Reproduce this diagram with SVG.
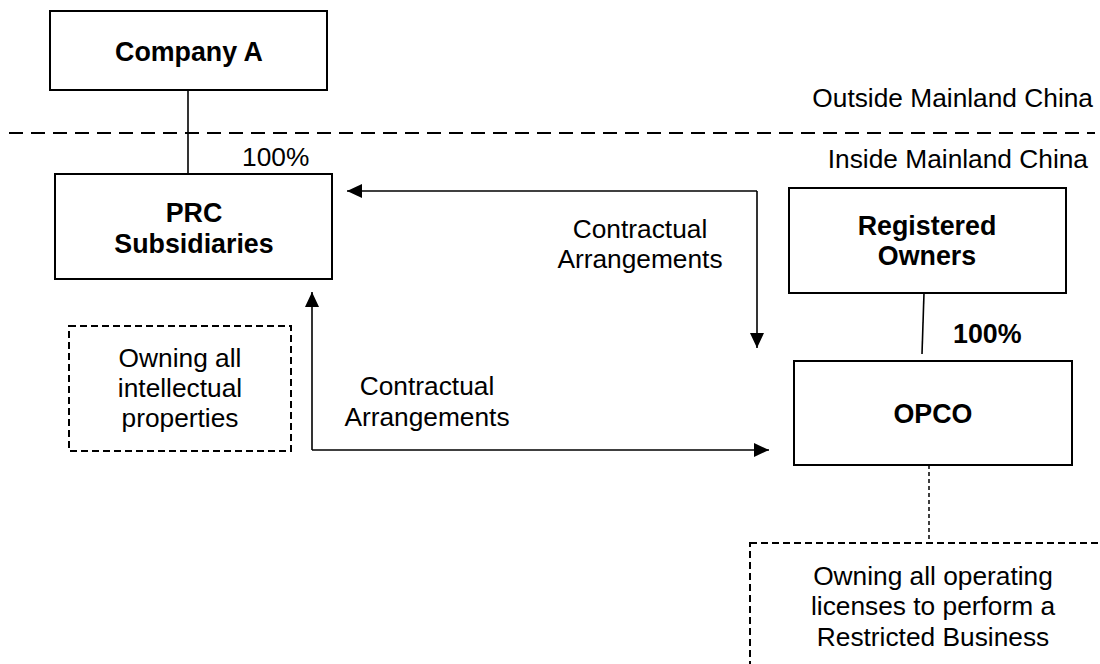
<svg xmlns="http://www.w3.org/2000/svg" width="1100" height="664" viewBox="0 0 1100 664">
  <style>
    .box { fill: #fff; stroke: #000; stroke-width: 2; }
    .note { fill: none; stroke: #000; stroke-width: 2; stroke-dasharray: 7 4; }
    .link { fill: none; stroke: #000; stroke-width: 1.6; }
    .t { font-family: "Liberation Sans", Arial, sans-serif; font-size: 26.3px; fill: #000; }
    .b { font-weight: bold; font-size: 26.8px; }
    .c { text-anchor: middle; }
  </style>
  <defs>
    <marker id="arrow" markerUnits="userSpaceOnUse" markerWidth="16" markerHeight="16" viewBox="0 0 16 16" refX="15" refY="8" orient="auto">
      <path d="M0,1 L15,8 L0,15 Z" fill="#000"/>
    </marker>
  </defs>

  <rect width="1100" height="664" fill="#fff"/>

  <!-- border between jurisdictions -->
  <g id="border">
    <line x1="9" y1="133" x2="1095" y2="133" stroke="#000" stroke-width="1.8" stroke-dasharray="14 8"/>
    <text class="t" x="1093" y="107" text-anchor="end">Outside Mainland China</text>
    <text class="t" x="1088" y="168" text-anchor="end">Inside Mainland China</text>
  </g>

  <!-- connectors -->
  <g id="connectors">
    <line class="link" x1="188" y1="90" x2="188" y2="174"/>
    <text class="t" x="242" y="166">100%</text>
    <path class="link" d="M757,191 L347,191" marker-end="url(#arrow)"/>
    <path class="link" d="M757,191 L757,348" marker-end="url(#arrow)"/>
    <text class="t c" x="640" y="238">Contractual</text>
    <text class="t c" x="640" y="268">Arrangements</text>
    <path class="link" d="M312,450 L312,292" marker-end="url(#arrow)"/>
    <path class="link" d="M312,450 L769,450" marker-end="url(#arrow)"/>
    <text class="t c" x="427" y="395">Contractual</text>
    <text class="t c" x="427" y="426">Arrangements</text>
    <line class="link" x1="924" y1="293" x2="922" y2="354"/>
    <text class="t b" x="953" y="343">100%</text>
    <line x1="929" y1="465" x2="929" y2="543" stroke="#000" stroke-width="1.5" stroke-dasharray="4 3"/>
  </g>

  <g id="company-a">
    <rect class="box" x="50" y="11" width="277" height="79"/>
    <text class="t b c" x="189" y="61">Company A</text>
  </g>

  <g id="prc-subsidiaries">
    <rect class="box" x="55" y="174" width="277" height="105"/>
    <text class="t b c" x="194" y="222">PRC</text>
    <text class="t b c" x="194" y="253">Subsidiaries</text>
  </g>

  <g id="ip-note">
    <rect class="note" x="69" y="326" width="222" height="125"/>
    <text class="t c" x="180" y="367">Owning all</text>
    <text class="t c" x="180" y="397">intellectual</text>
    <text class="t c" x="180" y="427">properties</text>
  </g>

  <g id="registered-owners">
    <rect class="box" x="789" y="188" width="277" height="105"/>
    <text class="t b c" x="927" y="235">Registered</text>
    <text class="t b c" x="927" y="265">Owners</text>
  </g>

  <g id="opco">
    <rect class="box" x="794" y="361" width="278" height="104"/>
    <text class="t b c" x="933" y="423">OPCO</text>
  </g>

  <g id="licence-note">
    <rect class="note" x="750" y="543" width="380" height="150"/>
    <text class="t c" x="933" y="585">Owning all operating</text>
    <text class="t c" x="933" y="615">licenses to perform a</text>
    <text class="t c" x="933" y="646">Restricted Business</text>
  </g>
</svg>
